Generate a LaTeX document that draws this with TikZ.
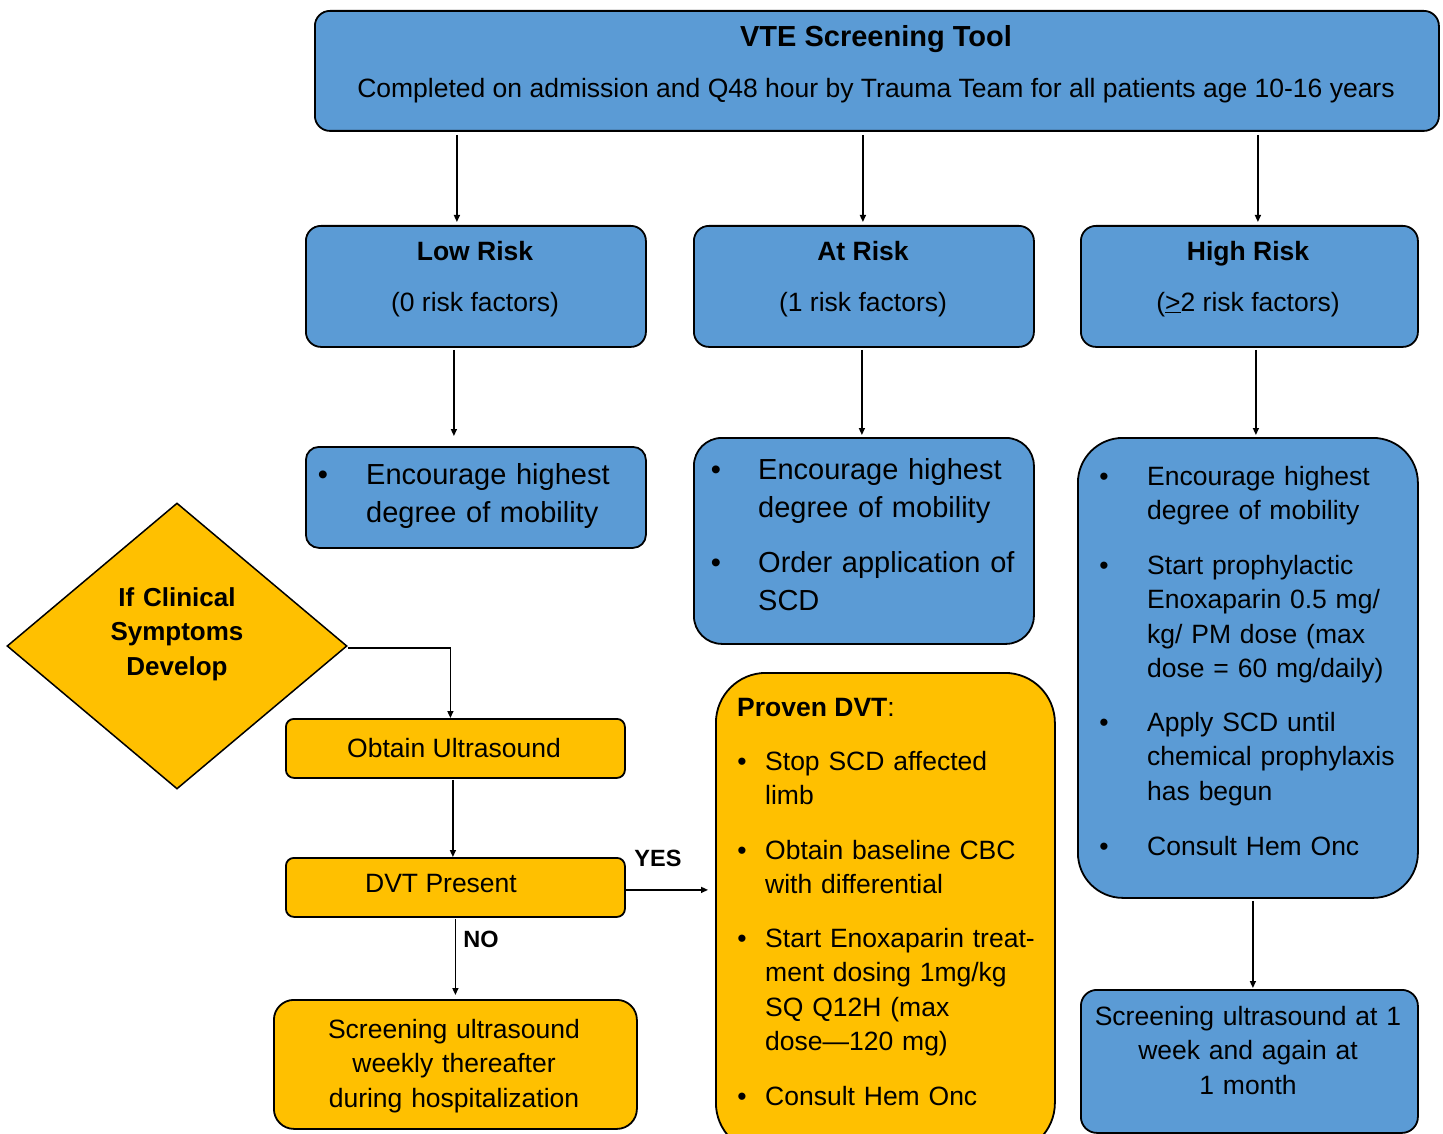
\documentclass[tikz,border=0pt]{standalone}
\usepackage{fontspec}
\setmainfont{Liberation Sans}
\usetikzlibrary{arrows.meta,shapes.geometric,calc}
\definecolor{vblue}{HTML}{5B9BD5}
\definecolor{vgold}{HTML}{FFC000}
\begin{document}
\begin{tikzpicture}[x=1pt,y=-1pt,
  bbox/.style={draw=black, line width=1.8pt, fill=vblue, rounded corners=#1, anchor=north west, inner sep=0pt},
  gbox/.style={draw=black, line width=1.8pt, fill=vgold, rounded corners=#1, anchor=north west, inner sep=0pt},
  txt/.style={inner sep=0pt, anchor=base, font=\fontsize{26.5}{34.5}\selectfont},
  btxt/.style={inner sep=0pt, anchor=base, font=\fontsize{26.5}{34.5}\selectfont\bfseries},
  bigtxt/.style={inner sep=0pt, anchor=base west, align=left, text width=290pt, font=\fontsize{29}{38.5}\selectfont},
  item/.style={inner sep=0pt, anchor=base west, align=left, text width=270pt, font=\fontsize{26.5}{34.5}\selectfont},
  ctext/.style={inner sep=0pt, anchor=base, align=center, text width=330pt, font=\fontsize{26.5}{34.5}\selectfont},
  bul/.style={inner sep=0pt, anchor=base, font=\fontsize{26.5}{34.5}\selectfont},
  lbl/.style={inner sep=0pt, anchor=base, font=\fontsize{23.5}{28}\selectfont\bfseries},
  arr/.style={line width=1.4pt, -{Triangle[length=7pt,width=6pt]}}
]
\clip (0,0) rectangle (1443,1134);
\fill[white] (0,0) rectangle (1443,1134);

% ---------- boxes ----------
\node[bbox=15pt, minimum width=1124pt, minimum height=120pt] (top) at (314,10) {};
\node[bbox=15pt, minimum width=340pt, minimum height=121pt] (lowh) at (305,225) {};
\node[bbox=15pt, minimum width=340pt, minimum height=121pt] (ath) at (693,225) {};
\node[bbox=15pt, minimum width=337pt, minimum height=121pt] (highh) at (1080,225) {};
\node[bbox=13pt, minimum width=340pt, minimum height=101pt] (lowl) at (305,446) {};
\node[bbox=28pt, minimum width=340pt, minimum height=206pt] (atl) at (693,437) {};
\node[bbox=45pt, minimum width=340pt, minimum height=460pt] (highl) at (1077,437) {};
\node[bbox=16pt, minimum width=337pt, minimum height=143pt] (highs) at (1080,989) {};

\node[diamond, aspect=1.19, draw=black, line width=1.5pt, fill=vgold, minimum width=340pt, minimum height=286pt, inner sep=0pt] (dia) at (177,646) {};
\node[gbox=8pt, minimum width=339pt, minimum height=59pt] (obt) at (285,718) {};
\node[gbox=8pt, minimum width=339pt, minimum height=59pt] (dvt) at (285,857) {};
\node[gbox=20pt, minimum width=363pt, minimum height=129pt] (lefts) at (273,999) {};
\node[gbox=50pt, minimum width=339pt, minimum height=480pt] (prov) at (715,672) {};

% ---------- texts ----------
\node[inner sep=0pt, anchor=base, font=\fontsize{29}{35}\selectfont\bfseries] (ttl) at (876,47) {VTE Screening Tool};
\node[txt] (sub) at (876,98) {Completed on admission and Q48 hour by Trauma Team for all patients age 10-16 years};

\node[btxt] (lowt) at (475,261) {Low Risk};
\node[txt] (lowf) at (475,311) {(0 risk factors)};
\node[btxt] (att) at (863,261) {At Risk};
\node[txt] (atf) at (863,311) {(1 risk factors)};
\node[btxt] (hight) at (1248,261) {High Risk};
\node[txt] (highf) at (1248,311) {(\underline{>}2 risk factors)};

% low list
\node[bul, font=\fontsize{29}{38.5}\selectfont] (lb1) at (323,484) {•};
\node[bigtxt] (li1) at (366,484) {Encourage highest\\degree of mobility};
% at list
\node[bul, font=\fontsize{29}{38.5}\selectfont] (ab1) at (716,479) {•};
\node[bigtxt] (ai1) at (758,479) {Encourage highest\\degree of mobility};
\node[bul, font=\fontsize{29}{38.5}\selectfont] (ab2) at (716,572) {•};
\node[bigtxt] (ai2) at (758,572) {Order application of\\SCD};
% high list
\node[bul] (hb1) at (1104,485) {•};
\node[item] (hi1) at (1147,485) {Encourage highest\\degree of mobility};
\node[bul] (hb2) at (1104,574) {•};
\node[item] (hi2) at (1147,574) {Start prophylactic\\Enoxaparin 0.5 mg/\\kg/ PM dose (max\\dose = 60 mg/daily)};
\node[bul] (hb3) at (1104,731) {•};
\node[item] (hi3) at (1147,731) {Apply SCD until\\chemical prophylaxis\\has begun};
\node[bul] (hb4) at (1104,855) {•};
\node[item] (hi4) at (1147,855) {Consult Hem Onc};
% high screening
\node[ctext] (hst) at (1248,1025) {Screening ultrasound at 1\\week and again at\\1 month};

% diamond text
\node[inner sep=0pt, anchor=base, align=center, text width=200pt, font=\fontsize{26}{34.5}\selectfont\bfseries] (diat) at (177,606) {If Clinical\\Symptoms\\Develop};
\node[txt] (obtt) at (454,757) {Obtain Ultrasound};
\node[txt] (dvtt) at (441,892) {DVT Present};
\node[ctext] (lst) at (454,1038) {Screening ultrasound\\weekly thereafter\\during hospitalization};

% proven DVT
\node[inner sep=0pt, anchor=base west, font=\fontsize{26.5}{34.5}\selectfont] (pt) at (737,716) {\textbf{Proven DVT}:};
\node[bul] (pb1) at (742,770) {•};
\node[item] (pi1) at (765,770) {Stop SCD affected\\limb};
\node[bul] (pb2) at (742,859) {•};
\node[item] (pi2) at (765,859) {Obtain baseline CBC\\with differential};
\node[bul] (pb3) at (742,947) {•};
\node[item] (pi3) at (765,947) {Start Enoxaparin treat-\\ment dosing 1mg/kg\\SQ Q12H (max\\dose—120 mg)};
\node[bul] (pb4) at (742,1105) {•};
\node[item] (pi4) at (765,1105) {Consult Hem Onc};

% ---------- connectors ----------
\draw[arr, shorten <=3pt, shorten >=3pt] ([xshift=-19pt]lowh.north |- top.south) -- ([xshift=-19pt]lowh.north);
\draw[arr, shorten <=3pt, shorten >=3pt] ([xshift=-1pt]ath.north |- top.south) -- ([xshift=-1pt]ath.north);
\draw[arr, shorten <=3pt, shorten >=3pt] ([xshift=8.5pt]highh.north |- top.south) -- ([xshift=8.5pt]highh.north);

\draw[arr, shorten <=2pt, shorten >=10pt] ([xshift=-22pt]lowh.south) -- ([xshift=-22pt]lowh.south |- lowl.north);
\draw[arr, shorten <=2pt, shorten >=2pt] ([xshift=-2pt]ath.south) -- ([xshift=-2pt]ath.south |- atl.north);
\draw[arr, shorten <=2pt, shorten >=2pt] ([xshift=6.5pt]highh.south) -- ([xshift=6.5pt]highh.south |- highl.north);
\draw[arr, shorten <=2pt, shorten >=1pt] ([xshift=5pt]highl.south) -- ([xshift=5pt]highl.south |- highs.north);

\draw[arr] ([yshift=-2pt]dia.east) -| ([xshift=-5pt]obt.north);
\draw[arr, shorten <=1pt] ([xshift=-2.5pt]obt.south) -- ([xshift=-2.5pt]obt.south |- dvt.north);
\draw[arr, shorten >=7pt] ([yshift=-2.5pt]dvt.east) -- ([yshift=-2.5pt]dvt.east -| prov.west);
\draw[arr, shorten <=1pt, shorten >=4pt] (dvt.south) -- (dvt.south |- lefts.north);

\node[lbl] (yes) at (658,866) {YES};
\node[lbl] (no) at (481,947) {NO};
\end{tikzpicture}
\end{document}
